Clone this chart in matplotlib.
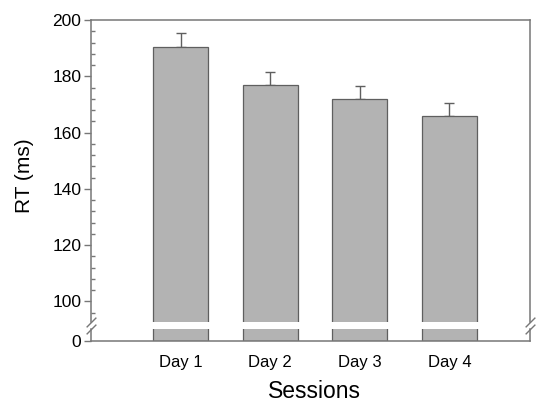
import matplotlib
matplotlib.use("Agg")
import matplotlib.pyplot as plt
from matplotlib.ticker import MultipleLocator
import numpy as np

# data
sessions = ["Day 1", "Day 2", "Day 3", "Day 4"]
rt_mean = [190.5, 176.8, 171.9, 165.9]
rt_err = [4.8, 4.8, 4.8, 4.6]

plt.rcParams["font.family"] = ["Liberation Sans", "DejaVu Sans"]

bar_color = "#b3b3b3"
edge_color = "#5f5f5f"
spine_color = "#777777"

fig = plt.figure(figsize=(5.4, 4.03), dpi=100)
W, H = 540, 403
left, right = 91 / W, 530 / W
ax_top = fig.add_axes([left, 1 - 322 / H, right - left, (322 - 20) / H])
ax_bot = fig.add_axes([left, 1 - 341 / H, right - left, (341 - 329) / H])

x = np.arange(len(sessions))
for ax in (ax_top, ax_bot):
    ax.bar(x, rt_mean, width=0.61, color=bar_color, edgecolor=edge_color,
           linewidth=0.9, zorder=2)
    ax.set_xlim(-1.0, 3.9)
    for s in ax.spines.values():
        s.set_color(spine_color)
        s.set_linewidth(1.1)

ax_top.errorbar(x, rt_mean, yerr=[np.zeros(4), rt_err], fmt="none",
                ecolor=edge_color, elinewidth=1, capsize=3.5, capthick=1,
                zorder=1)

# top axes
ax_top.set_ylim(92.7, 200)
ax_top.yaxis.set_major_locator(MultipleLocator(20))
ax_top.yaxis.set_minor_locator(MultipleLocator(4))
ax_top.set_yticks([100, 120, 140, 160, 180, 200])
ax_top.tick_params(axis="y", which="major", direction="out", length=5,
                   width=1, color=spine_color, labelsize=12.5, pad=2)
ax_top.tick_params(axis="y", which="minor", direction="in", length=3,
                   width=1, color=spine_color)
ax_top.tick_params(axis="x", bottom=False, labelbottom=False)
ax_top.spines["bottom"].set_visible(False)

# bottom axes
ax_bot.set_ylim(0, 4.26)
ax_bot.set_yticks([0])
ax_bot.tick_params(axis="y", direction="out", length=5, width=1,
                   color=spine_color, labelsize=12.5, pad=2)
ax_bot.spines["top"].set_visible(False)
ax_bot.set_xticks(x)
ax_bot.set_xticklabels(sessions)
ax_bot.tick_params(axis="x", length=0, labelsize=12, pad=10)

# axis titles
fig.text(314 / W, 1 - 398 / H, "Sessions", fontsize=16.5,
         ha="center", va="baseline")
fig.text(25 / W, 1 - 175.5 / H, "RT (ms)",
         rotation=90, fontsize=15, ha="center", va="center")

# break marks
kw = dict(marker=[(-1, -1), (1, 1)], markersize=7, linestyle="none",
          color=spine_color, mec=spine_color, mew=1, clip_on=False)
ax_top.plot([0, 1], [0, 0], transform=ax_top.transAxes, **kw)
ax_bot.plot([0, 1], [1, 1], transform=ax_bot.transAxes, **kw)

fig.savefig("out.png", dpi=100)
